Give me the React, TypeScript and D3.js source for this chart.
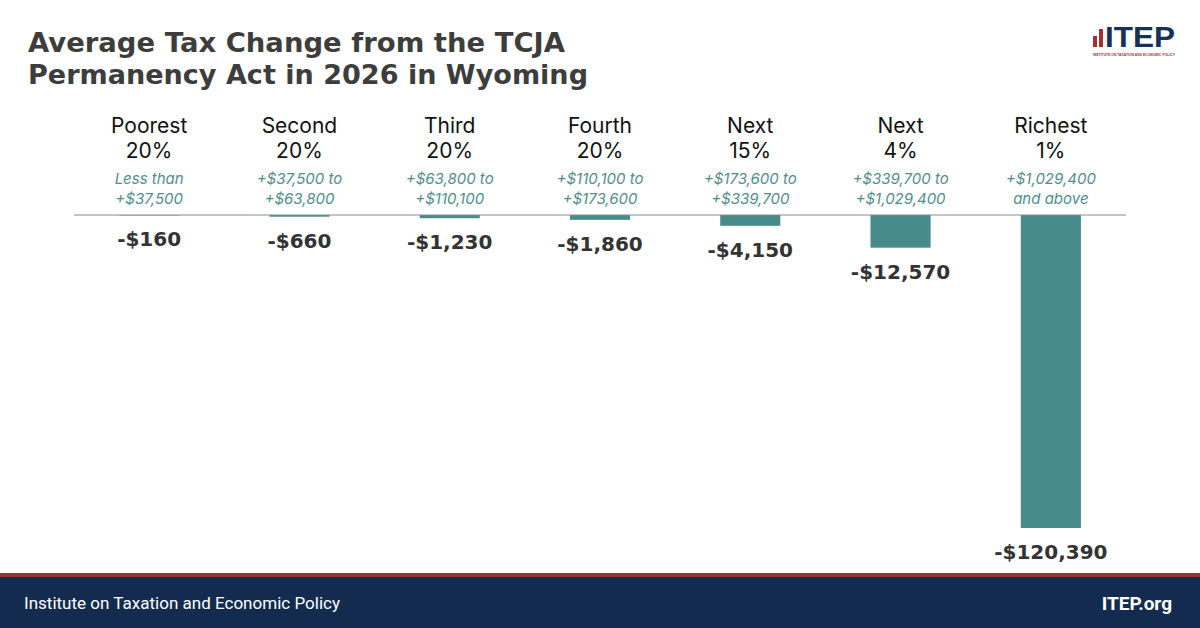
import { useEffect, useRef } from "react";
import * as d3 from "d3";

const groups = ["Poorest", "Second", "Third", "Fourth", "Next", "Next", "Richest"];
const shares = ["20%", "20%", "20%", "20%", "15%", "4%", "1%"];
const rangeTop = [
  "Less than",
  "+$37,500 to",
  "+$63,800 to",
  "+$110,100 to",
  "+$173,600 to",
  "+$339,700 to",
  "+$1,029,400",
];
const rangeBottom = [
  "+$37,500",
  "+$63,800",
  "+$110,100",
  "+$173,600",
  "+$339,700",
  "+$1,029,400",
  "and above",
];
const taxChange = [-160, -660, -1230, -1860, -4150, -12570, -120390];

const width = 1200;
const height = 628;
const margin = { left: 74, right: 74, top: 215, bottom: 100 };
const teal = "#478b8a";

export default function App() {
  const svgRef = useRef(null);

  useEffect(() => {
    const svg = d3.select(svgRef.current).attr("viewBox", [0, 0, width, height]);
    svg.selectAll("*").remove();
    const font = "Inter, 'Open Sans', sans-serif";
    const heavy = "'DejaVu Sans', Lato, sans-serif";

    svg.append("rect").attr("width", width).attr("height", height).attr("fill", "#fff");

    // Title
    const title = svg
      .append("text")
      .attr("font-family", heavy)
      .attr("font-weight", 700)
      .attr("font-size", 27)
      .attr("fill", "#3d3d3d");
    title
      .append("tspan")
      .attr("x", 28)
      .attr("y", 52)
      .attr("textLength", 537)
      .attr("lengthAdjust", "spacingAndGlyphs")
      .text("Average Tax Change from the TCJA");
    title
      .append("tspan")
      .attr("x", 28)
      .attr("y", 84)
      .attr("textLength", 560)
      .attr("lengthAdjust", "spacingAndGlyphs")
      .text("Permanency Act in 2026 in Wyoming");

    // Logo
    const logo = svg.append("g");
    logo.append("rect").attr("x", 1093).attr("y", 36).attr("width", 4).attr("height", 11).attr("fill", "#a23232");
    logo.append("rect").attr("x", 1099).attr("y", 29).attr("width", 4).attr("height", 18).attr("fill", "#a23232");
    logo
      .append("text")
      .attr("x", 1105)
      .attr("y", 47)
      .attr("font-family", "'Liberation Sans', Arial, sans-serif")
      .attr("font-weight", 700)
      .attr("font-size", 30)
      .attr("textLength", 70)
      .attr("lengthAdjust", "spacingAndGlyphs")
      .attr("fill", "#17305a")
      .text("ITEP");
    logo
      .append("text")
      .attr("x", 1093)
      .attr("y", 56)
      .attr("font-family", "'Liberation Sans', Arial, sans-serif")
      .attr("font-weight", 700)
      .attr("font-size", 3.2)
      .attr("textLength", 82)
      .attr("lengthAdjust", "spacingAndGlyphs")
      .attr("fill", "#a23232")
      .text("INSTITUTE ON TAXATION AND ECONOMIC POLICY");

    // Scales
    const x = d3
      .scaleBand<number>()
      .domain(d3.range(groups.length))
      .range([margin.left, width - margin.right])
      .paddingInner(0.6)
      .paddingOuter(0.3);

    const y = d3
      .scaleLinear()
      .domain([0, d3.min(taxChange) as number])
      .range([margin.top, 528]);

    const cx = (i: number) => (x(i) as number) + x.bandwidth() / 2;

    // Bars
    svg
      .append("g")
      .selectAll("rect")
      .data(taxChange)
      .join("rect")
      .attr("x", (_, i) => x(i) as number)
      .attr("y", y(0))
      .attr("width", x.bandwidth())
      .attr("height", (d) => y(d) - y(0))
      .attr("fill", teal);

    // Zero line
    svg
      .append("line")
      .attr("x1", margin.left)
      .attr("x2", width - margin.right)
      .attr("y1", y(0))
      .attr("y2", y(0))
      .attr("stroke", "#8a8a8a")
      .attr("stroke-width", 1);

    // Category labels
    const cat = svg.append("g").attr("text-anchor", "middle").attr("font-family", font);
    groups.forEach((g, i) => {
      cat.append("text").attr("x", cx(i)).attr("y", 133).attr("font-size", 21).attr("fill", "#111").text(g);
      cat.append("text").attr("x", cx(i)).attr("y", 158).attr("font-size", 21).attr("fill", "#111").text(shares[i]);
      cat
        .append("text")
        .attr("x", cx(i))
        .attr("y", 184)
        .attr("font-size", 15)
        .attr("font-style", "italic")
        .attr("fill", "#4f8e8e")
        .text(rangeTop[i]);
      cat
        .append("text")
        .attr("x", cx(i))
        .attr("y", 204)
        .attr("font-size", 15)
        .attr("font-style", "italic")
        .attr("fill", "#4f8e8e")
        .text(rangeBottom[i]);
    });

    // Value labels
    const fmt = (v: number) => "-$" + d3.format(",")(Math.abs(v));
    svg
      .append("g")
      .selectAll("text")
      .data(taxChange)
      .join("text")
      .attr("x", (_, i) => cx(i))
      .attr("y", (d) => y(d) + 31)
      .attr("text-anchor", "middle")
      .attr("font-family", heavy)
      .attr("font-weight", 700)
      .attr("font-size", 20)
      .attr("fill", "#333")
      .text((d) => fmt(d));

    // Footer
    svg.append("rect").attr("x", 0).attr("y", 573).attr("width", width).attr("height", 4).attr("fill", "#9c3032");
    svg.append("rect").attr("x", 0).attr("y", 577).attr("width", width).attr("height", 51).attr("fill", "#132b4e");
    svg
      .append("text")
      .attr("x", 24)
      .attr("y", 609)
      .attr("font-family", "Roboto, 'Noto Sans', sans-serif")
      .attr("font-size", 16)
      .attr("textLength", 316)
      .attr("lengthAdjust", "spacingAndGlyphs")
      .attr("fill", "#fff")
      .text("Institute on Taxation and Economic Policy");
    svg
      .append("text")
      .attr("x", 1172)
      .attr("y", 610)
      .attr("text-anchor", "end")
      .attr("font-family", "Roboto, 'Noto Sans', sans-serif")
      .attr("font-weight", 700)
      .attr("font-size", 19)
      .attr("fill", "#fff")
      .text("ITEP.org");
  }, []);

  return (
    <div style={{ position: "fixed", left: 0, top: 0, width, height }}>
      <svg ref={svgRef} width={width} height={height} style={{ display: "block" }} />
    </div>
  );
}
